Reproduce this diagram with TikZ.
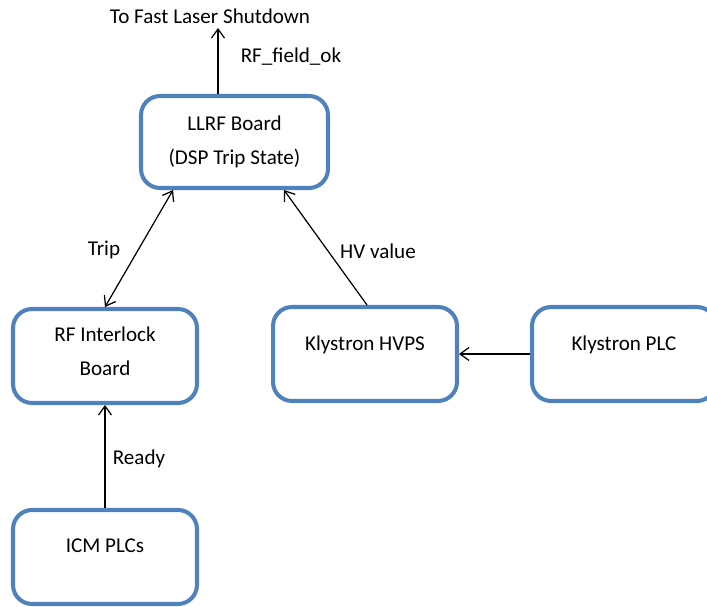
\documentclass[tikz,border=0pt]{standalone}
\usepackage{fontspec}
\setmainfont{Carlito}
\usepackage{tikz}
\usepackage{xcolor}
\usetikzlibrary{arrows.meta}
\definecolor{boxblue}{RGB}{79,129,189}
\tikzset{block/.style={draw=boxblue,line width=2.3pt,rounded corners=0.38cm,
   minimum width=3.68cm,minimum height=1.88cm,align=center,
   font=\fontsize{12}{19.5}\selectfont},
 raised/.style={text depth=0.45cm},
 lbl/.style={font=\fontsize{12}{14}\selectfont},
 arr/.style={draw,line width=0.7pt,>={Straight Barb[length=1.8mm,width=2.6mm]},->},
 }

\begin{document}
\begin{tikzpicture}[x=0.02cm,y=-0.02cm]
        \useasboundingbox (0,0) rectangle (707,607);
        \node[block,minimum width=3.74cm,minimum height=1.84cm] (llrf) at (234.5,142) {LLRF Board\\(DSP Trip State)};
        \node[block,text depth=0.2cm] (rfil) at (105,356) {RF Interlock\\Board};
        \node[block,raised] (hvps) at (365,354) {Klystron HVPS};
        \node[block,raised] (kplc) at (624,354) {Klystron PLC};
        \node[block,raised] (icm) at (105,557) {ICM PLCs};
        \coordinate (shut) at (218,28);
        \node[lbl] (out) at (210,16) {To Fast Laser Shutdown};
        \node[lbl] (rfok) at (291,57) {RF\_field\_ok};
        \node[lbl] (trip) at (104,250) {Trip};
        \node[lbl] (hvval) at (378,251) {HV value};
        \node[lbl] (rdy) at (139,459) {Ready};
        \draw[arr] (shut |- llrf.north) -- (shut);
        \draw[arr,<->] ([xshift=-1.23cm]llrf.south) -- (rfil.north);
        \draw[arr] ([xshift=0.04cm]hvps.north) -- ([xshift=0.99cm]llrf.south);
        \draw[arr] (kplc.west) -- (hvps.east);
        \draw[arr] (icm.north) -- (rfil.south);
    \end{tikzpicture}
\end{document}
